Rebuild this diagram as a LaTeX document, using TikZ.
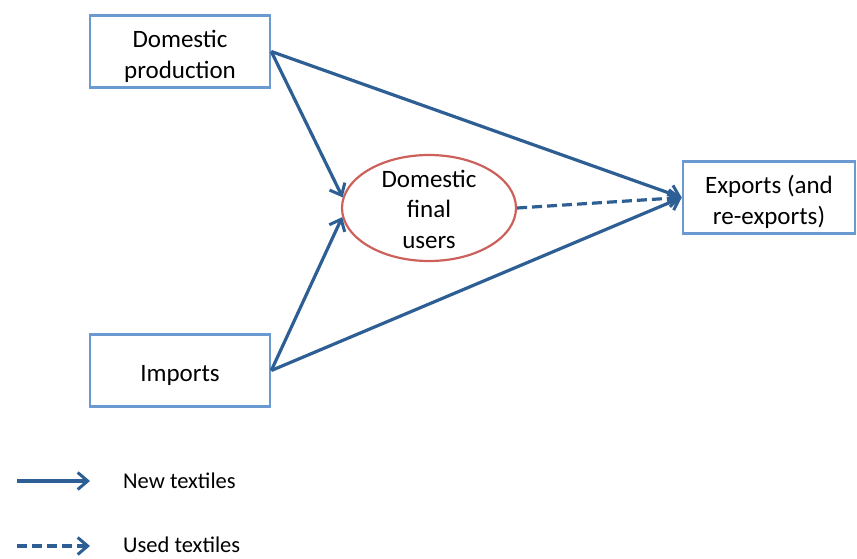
\documentclass[tikz,border=0pt]{standalone}
\usepackage{fontspec}
\setmainfont{Carlito}
\usetikzlibrary{arrows.meta,shapes.geometric}
\definecolor{boxc}{HTML}{6A9AD0}
\definecolor{arrc}{HTML}{2E5F94}
\definecolor{ellc}{HTML}{CC615C}
\begin{document}
\begin{tikzpicture}[x=1pt,y=-1pt,
  boxnode/.style={draw=boxc,line width=2.6pt,minimum width=180pt,minimum height=72pt,inner sep=0pt},
  boxtext/.style={align=center,font=\fontsize{25pt}{30.5pt}\selectfont,inner sep=0pt},
  ellnode/.style={ellipse,draw=ellc,line width=2.2pt,minimum width=174pt,minimum height=106pt,align=center,font=\fontsize{25pt}{30.5pt}\selectfont,inner sep=0pt},
  flow/.style={draw=arrc,line width=3.2pt,-{Straight Barb[length=10pt,width=17pt,line width=3pt]}},
  usedflow/.style={flow,dash pattern=on 10pt off 5pt},
  legtext/.style={anchor=west,font=\fontsize{22.5pt}{26pt}\selectfont,inner sep=0pt}]
\useasboundingbox (0,0) rectangle (857,558);
\node[boxnode] (dp) at (180,51.5) {};
\node[boxtext] (dpt) at ([yshift=-5pt]dp.center) {Domestic\\production};
\node[boxnode] (im) at (180,370.5) {};
\node[boxtext] (imt) at ([yshift=-5pt]im.center) {Imports};
\node[boxnode,minimum width=172pt] (ex) at (769,197.5) {};
\node[boxtext] (ext) at ([yshift=-4.5pt]ex.center) {Exports (and\\re-exports)};
\node[ellnode] (fu) at (429,208) {};
\node[boxtext] (fut) at ([yshift=-1pt]fu.center) {Domestic\\final\\users};
\draw[flow] (dp.east) -- (fu.173);
\draw[flow] (im.east) -- (fu.186);
\draw[flow] (dp.east) -- (ex.west);
\draw[flow] (im.east) -- (ex.west);
\draw[usedflow] (fu.east) -- (ex.west);
\coordinate (l1a) at (17,481);
\coordinate (l1b) at (90,481);
\coordinate (l2a) at (17,546);
\coordinate (l2b) at (90,546);
\draw[flow] (l1a) -- (l1b);
\draw[usedflow] (l2a) -- (l2b);
\node[legtext] (t1) at (123,481) {New textiles};
\node[legtext] (t2) at (123,545) {Used textiles};
\end{tikzpicture}
\end{document}
